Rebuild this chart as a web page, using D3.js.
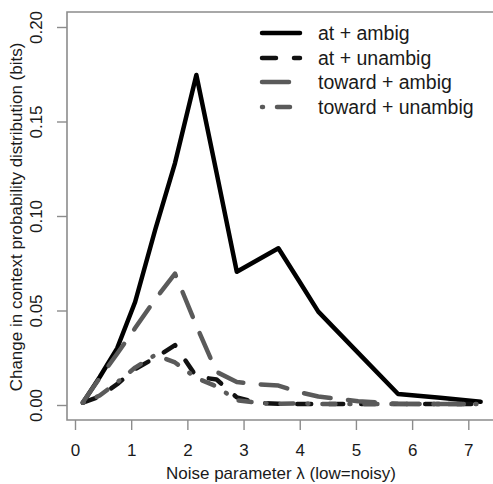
<!DOCTYPE html>
<html>
<head>
<meta charset="utf-8">
<script src="https://cdn.jsdelivr.net/npm/d3@7"></script>
<style>
  html, body { margin: 0; padding: 0; background: #ffffff; }
  svg { display: block; }
  text { font-family: "Liberation Sans", Arial, sans-serif; fill: #1a1a1a; }
</style>
</head>
<body>
<svg id="chart" width="493" height="484"></svg>
<script>
// ---- data ----
const lambda = [0.14, 0.44, 0.75, 1.07, 1.43, 1.78, 2.16, 2.52, 2.88, 3.25, 3.62, 3.98, 4.33, 5.04, 5.75, 6.5, 7.22];
const atAmbig = [0.0012, 0.0148, 0.030, 0.0545, 0.093, 0.128, 0.1746, 0.1228, 0.0705, 0.0767, 0.0829, 0.066, 0.0494, 0.0276, 0.0058, 0.0038, 0.0017];
const atUnambig = [0.0012, 0.0045, 0.011, 0.019, 0.025, 0.0317, 0.015, 0.0135, 0.004, 0.0012, 0.0006, 0.0005, 0.0005, 0.0005, 0.0005, 0.0005, 0.0005];
const towardAmbig = [0.0015, 0.0143, 0.0271, 0.0407, 0.056, 0.0695, 0.042, 0.0175, 0.0122, 0.011, 0.0103, 0.0069, 0.0045, 0.002, 0.0006, 0.0005, 0.0005];
const towardUnambig = [0.0012, 0.005, 0.012, 0.0198, 0.0265, 0.0225, 0.0143, 0.0098, 0.0025, 0.0012, 0.0006, 0.0009, 0.0005, 0.0005, 0.0005, 0.0005, 0.0005];
const seriesNames = ["at + ambig", "at + unambig", "toward + ambig", "toward + unambig"];
const xTicks = [0, 1, 2, 3, 4, 5, 6, 7];
const yTicks = [0, 0.05, 0.10, 0.15, 0.20];
const xTitle = "Noise parameter \u03bb (low=noisy)";
const yTitle = "Change in context probability distribution (bits)";

// ---- styles ----
const styles = [
  { color: "#000000", dash: null },
  { color: "#111111", dash: "14,18" },
  { color: "#5a5a5a", dash: "27,17.5" },
  { color: "#5a5a5a", dash: "1,14,13,14" }
];
const seriesValues = [atAmbig, atUnambig, towardAmbig, towardUnambig];

const svg = d3.select("#chart");
const box = { left: 67, top: 12, bottom: 420, right: 500 };

const x = d3.scaleLinear().domain([0, 7]).range([75, 468.3]);
const y = d3.scaleLinear().domain([0, 0.2]).range([405, 27]);

// box (top, left, bottom; right side is outside the picture)
svg.append("path")
  .attr("d", `M${box.right},${box.top} H${box.left} V${box.bottom} H${box.right}`)
  .attr("fill", "none").attr("stroke", "#8c8c8c").attr("stroke-width", 1.6);

// x axis
const xAxis = d3.axisBottom(x).tickValues(xTicks).tickSize(10).tickPadding(14)
  .tickFormat(d3.format("d"));
const gx = svg.append("g").attr("transform", `translate(0,${box.bottom})`).call(xAxis);
gx.select(".domain").remove();
gx.selectAll(".tick line").attr("stroke", "#8c8c8c").attr("stroke-width", 1.4);
gx.selectAll(".tick text").attr("font-size", 17).attr("fill", "#1a1a1a")
  .attr("font-family", "Liberation Sans, Arial, sans-serif");

// y axis
const yAxis = d3.axisLeft(y).tickValues(yTicks).tickSize(10).tickPadding(0)
  .tickFormat(d3.format(".2f"));
const gy = svg.append("g").attr("transform", `translate(${box.left},0)`).call(yAxis);
gy.select(".domain").remove();
gy.selectAll(".tick line").attr("stroke", "#8c8c8c").attr("stroke-width", 1.4);
gy.selectAll(".tick text")
  .attr("font-size", 17).attr("fill", "#1a1a1a")
  .attr("font-family", "Liberation Sans, Arial, sans-serif")
  .attr("x", null).attr("dy", null)
  .attr("text-anchor", "middle")
  .attr("transform", "translate(-25,0) rotate(-90)");

// axis titles
svg.append("text").attr("x", 281).attr("y", 479)
  .attr("text-anchor", "middle").attr("font-size", 17).text(xTitle);
svg.append("text")
  .attr("transform", "translate(22,217) rotate(-90)")
  .attr("text-anchor", "middle").attr("font-size", 17).text(yTitle);

// lines
const line = d3.line().x(d => x(d[0])).y(d => y(d[1]));
seriesValues.forEach((vals, i) => {
  const pts = lambda.map((l, k) => [l, vals[k]]);
  svg.append("path").datum(pts)
    .attr("d", line)
    .attr("fill", "none")
    .attr("stroke", styles[i].color)
    .attr("stroke-width", 4.5)
    .attr("stroke-linejoin", "round")
    .attr("stroke-linecap", "round")
    .attr("stroke-dasharray", styles[i].dash);
});

// legend
const legendRows = [33, 58, 82, 107];
seriesNames.forEach((name, i) => {
  svg.append("line")
    .attr("x1", 262).attr("x2", 300)
    .attr("y1", legendRows[i]).attr("y2", legendRows[i])
    .attr("stroke", styles[i].color).attr("stroke-width", 4.5)
    .attr("stroke-linecap", "round")
    .attr("stroke-dasharray", styles[i].dash);
  svg.append("text").attr("x", 318).attr("y", legendRows[i] + 7)
    .attr("font-size", 19.5).text(name);
});
</script>
</body>
</html>
